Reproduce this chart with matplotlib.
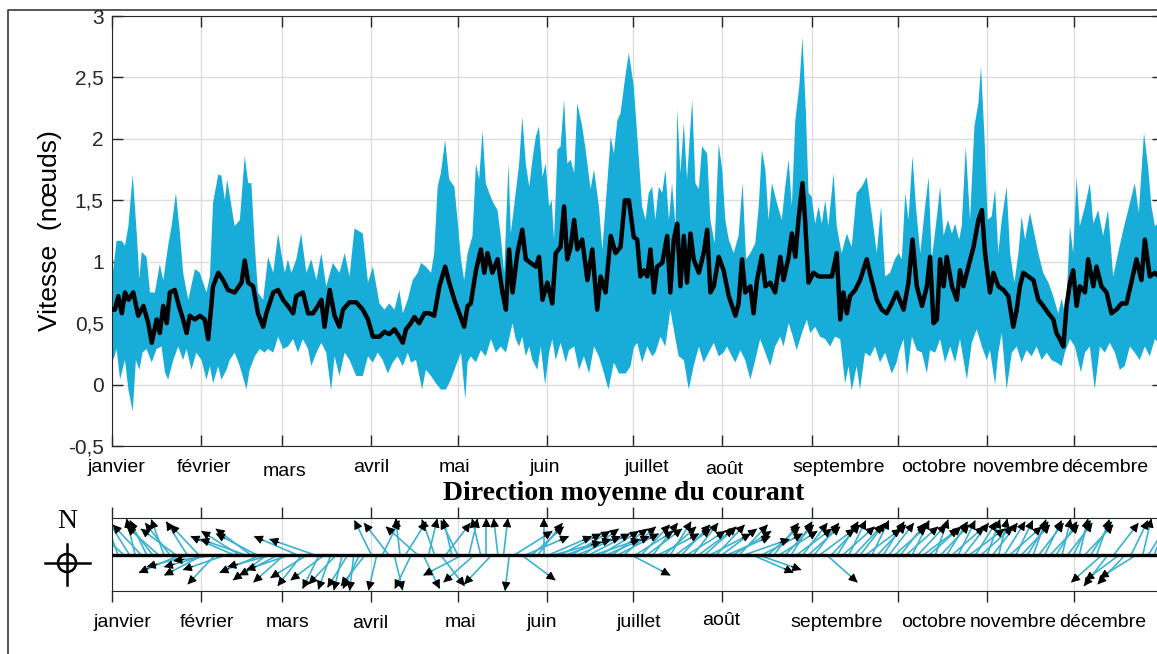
import matplotlib.pyplot as plt
import numpy as np
from matplotlib.collections import LineCollection
from matplotlib.patches import Circle

# vitesse max journaliere (noeuds) - jour de l'annee
up_day = [0, 1.6, 3.4, 4.5, 5.7, 7.2, 8.6, 9.5, 10.3, 12.0, 13.2, 14.9, 16.6, 17.8, 19.5,
          20.7, 22.2, 23.6, 24.7, 26.5, 28.8, 30.5, 32.8, 34.0, 35.1, 36.9, 38.0, 39.2, 40.0,
          41.5, 42.6, 44.4, 46.1, 47.3, 48.4, 49.6, 50.7, 52.5, 54.2, 56.0, 57.7, 58.8, 60.0,
          61.1, 62.3, 64.0, 65.7, 67.5, 69.2, 71.0, 72.7, 74.4, 76.7, 79.0, 80.8, 82.5, 84.2,
          87.1, 88.9, 90.6,
          92.9, 94.6, 96.3, 98.1, 99.8, 101.0, 102.7, 104.4, 106.2, 107.3, 109.0, 110.8, 111.9,
          113.1, 114.2, 115.7, 117.1, 118.9, 120.0, 121.2, 122.3, 123.5, 125.2, 126.4, 127.5,
          128.7, 129.8, 131.0, 132.4, 133.9, 135.0, 136.2, 137.7, 138.5, 140.2, 141.4, 142.5,
          143.7, 144.9, 146.0, 147.2, 148.3, 149.5, 150.6, 151.8, 152.7, 153.5, 154.7, 155.8,
          157.0, 158.1, 159.3, 160.5, 161.6, 163.3, 164.5, 166.2, 167.4, 169.1, 170.3, 171.4,
          173.2, 174.3, 175.5, 176.6, 178.4, 179.5,
          181.2, 183.0, 184.1, 185.3, 186.4, 187.6, 188.7, 189.9, 191.1, 192.2, 193.4, 194.5,
          195.7, 196.3, 197.4, 198.6, 199.7, 201.5, 202.6, 203.8, 204.9, 206.7, 207.8, 209.3,
          210.7, 211.9, 213.0, 214.2, 215.9, 217.6, 219.0, 220.2, 221.7, 223.4, 224.6, 225.7,
          226.9, 228.0, 229.2, 230.9, 232.6, 233.8, 235.0, 236.1, 237.3, 238.7, 239.8, 241.0,
          241.9, 243.0, 244.2, 245.4, 246.5, 247.7, 248.8, 250.6, 251.7, 253.4, 255.2, 256.9,
          258.6, 260.4, 262.1, 263.8, 265.6, 267.1, 268.5, 270.2, 271.9,
          273.2, 274.3, 275.5, 276.6, 278.0, 279.2, 280.7, 282.4, 283.6, 284.7, 286.5, 287.6,
          288.8, 290.3, 291.7, 292.8, 294.2, 295.1, 296.5, 298.0, 299.5, 300.9, 301.8, 303.0,
          304.1, 305.5, 306.7, 307.8, 309.0, 310.7, 311.9, 313.4, 314.8, 315.9, 317.1, 318.8,
          320.3, 321.7, 323.4, 325.2, 326.9, 328.6, 329.8, 331.2, 332.7, 333.8, 335.0, 336.1,
          337.9, 339.6, 340.8, 342.5, 344.2, 345.9, 347.7, 349.4, 351.2, 352.9, 355.2, 356.6,
          358.4, 359.8, 361.0, 362.2, 365]
up_kn = [0.85, 1.17, 1.17, 1.13, 1.29, 1.71, 1.23, 0.86, 1.08, 1.04, 0.75, 0.75, 0.98, 0.85, 1.13,
         1.29, 1.56, 1.23, 0.91, 0.69, 0.94, 0.91, 0.75, 0.88, 1.48, 1.71, 1.70, 1.50, 1.67,
         1.45, 1.29, 1.34, 1.86, 1.64, 1.64, 1.13, 0.75, 0.69, 1.04, 0.91, 1.23, 1.07, 0.91,
         1.02, 0.91, 1.02, 1.23, 0.91, 1.02, 0.85, 1.07, 0.80, 0.99, 0.91, 1.07, 0.88, 1.27,
         1.23, 0.83, 0.96,
         0.66, 0.61, 0.66, 0.61, 0.77, 0.58, 0.69, 0.85, 0.91, 0.99, 0.96, 0.91, 1.07,
         1.61, 1.72, 1.99, 1.67, 1.61, 1.34, 1.02, 0.85, 1.07, 1.21, 1.80, 1.67,
         2.07, 1.64, 1.56, 1.48, 1.42, 1.21, 0.91, 1.80, 1.23, 1.56, 1.80, 2.18,
         1.80, 1.61, 1.83, 2.02, 2.10, 1.69, 1.80, 1.45, 1.50, 1.18, 1.91, 1.94,
         2.32, 1.80, 1.83, 1.72, 2.29, 2.10, 1.91, 1.59, 1.75, 1.45, 1.10, 1.45,
         2.02, 1.88, 2.15, 2.21, 2.53, 2.70,
         2.43, 1.83, 1.45, 1.34, 1.56, 1.61, 1.34, 1.61, 1.56, 1.75, 1.34, 1.64,
         1.29, 2.24, 1.72, 2.13, 1.67, 2.32, 1.64, 1.59, 1.94, 1.88, 1.34, 1.15,
         1.96, 1.75, 1.34, 1.18, 1.07, 1.21, 1.64, 1.02, 1.07, 1.15, 1.45, 1.91,
         1.75, 1.34, 1.64, 1.48, 1.34, 1.61, 1.83, 1.45, 2.15, 2.43, 2.83, 2.21,
         1.56, 1.53, 1.31, 1.45, 1.31, 1.50, 1.29, 1.72, 1.29, 1.07, 1.23, 1.12,
         1.56, 1.61, 1.69, 1.40, 1.07, 1.45, 0.88, 0.91, 1.02,
         1.07, 1.02, 1.56, 1.34, 1.86, 1.45, 1.07, 1.45, 1.69, 1.02, 1.37, 1.61,
         1.21, 1.34, 1.23, 1.31, 1.18, 1.29, 1.94, 1.34, 2.10, 2.29, 2.59, 2.02,
         1.34, 1.37, 1.59, 1.07, 1.34, 1.61, 1.07, 0.83, 1.07, 1.37, 1.18, 1.40,
         1.23, 1.07, 0.91, 0.83, 0.72, 0.58, 0.70, 0.55, 1.29, 1.07, 1.69, 1.29,
         1.45, 1.64, 1.31, 1.42, 1.21, 1.42, 0.88, 1.07, 1.26, 1.42, 1.64, 1.40,
         2.05, 1.78, 1.45, 1.29, 1.35]

# vitesse min journaliere (noeuds)
lo_day = [0, 0.5, 1.6, 2.8, 4.5, 5.7, 7.2, 8.3, 9.5, 10.6, 12.0, 13.8, 15.5, 17.2, 18.4,
          19.5, 21.3, 23.0, 24.7, 25.9, 27.6, 29.3, 31.1, 32.8, 34.0, 35.1, 36.9, 38.0, 39.8,
          40.9, 42.6, 44.4, 46.7, 47.8, 49.6, 51.3, 53.0, 54.2, 56.0, 57.7, 59.4, 61.1, 62.9,
          64.6, 66.3, 68.1, 69.2, 71.0, 72.7, 74.4, 76.1, 77.3, 79.0, 80.8, 82.5, 84.8, 87.1,
          88.9, 90.6,
          92.3, 94.0, 95.8, 97.5, 99.2, 101.0, 102.7, 103.8, 105.6, 107.7, 109.0, 110.8, 112.5,
          114.2, 116.0, 117.7, 119.4, 121.2, 122.7, 123.5, 124.6, 126.4, 128.1, 129.8, 131.6,
          133.3, 135.0, 136.8, 137.9, 139.1, 140.2, 141.4, 142.5, 143.7, 144.9, 146.0, 147.7,
          148.9, 150.4, 151.8, 152.9, 154.1, 155.8, 157.6, 158.7, 160.5, 162.2, 163.9, 165.7,
          167.4, 169.1, 170.9, 172.4, 174.3, 176.1, 178.4, 180.1,
          181.2, 182.4, 184.1, 185.9, 187.6, 188.7, 190.5, 192.2, 193.9, 195.7, 196.8, 198.6,
          200.3, 202.0, 203.8, 205.5, 207.2, 209.0, 210.7, 212.4, 213.6, 215.3, 216.5, 218.2,
          219.9, 221.7, 223.4, 225.1, 226.9, 228.6, 230.3, 232.1, 233.2, 235.0, 236.1, 237.8,
          239.6, 241.3, 242.5, 244.2, 245.9, 247.7, 249.4, 251.1, 252.9, 254.6, 255.8, 256.9,
          258.6, 259.8, 261.5, 263.3, 265.0, 266.7, 268.5, 270.8, 272.5,
          273.2, 274.9, 276.1, 277.8, 279.5, 281.3, 283.0, 284.1, 285.9, 287.6, 289.3, 291.1,
          292.8, 294.5, 296.9, 298.6, 300.3, 302.1, 303.8, 304.9, 306.7, 307.8, 309.0, 310.7,
          312.5, 314.2, 315.9, 317.6, 319.4, 321.1, 322.9, 324.6, 326.3, 328.0, 329.8, 330.9,
          332.7, 334.4, 336.5, 337.9, 339.6, 341.3, 343.1, 344.8, 346.5, 348.3, 350.0, 351.7,
          353.5, 355.2, 356.9, 358.7, 360.4, 362.2, 365]
lo_kn = [0.30, 0.20, 0.29, 0.04, 0.20, -0.04, -0.22, 0.20, 0.12, 0.26, 0.29, 0.18, 0.29, 0.31, 0.10,
         0.04, 0.20, 0.31, 0.20, 0.29, 0.12, 0.26, 0.20, 0.04, 0.15, 0.01, 0.15, 0.04, 0.12,
         0.20, 0.26, 0.15, -0.04, 0.12, 0.23, 0.29, 0.26, 0.29, 0.26, 0.39, 0.29, 0.31, 0.37,
         0.26, 0.37, 0.29, 0.15, 0.26, 0.34, 0.26, -0.05, 0.23, 0.07, 0.26, 0.20, 0.07, 0.07,
         0.23, 0.18,
         0.26, 0.20, 0.09, 0.18, 0.23, 0.15, 0.26, 0.18, 0.20, -0.04, 0.12, 0.07, 0.01,
         -0.04, -0.04, 0.04, 0.15, 0.26, -0.12, 0.18, 0.23, 0.18, 0.28, 0.23, 0.37,
         0.26, 0.31, 0.26, 0.37, 0.50, 0.37, 0.31, 0.39, 0.23, 0.31, 0.20, 0.12,
         0.31, 0.00, 0.26, 0.37, 0.20, 0.34, 0.18, 0.28, 0.31, 0.12, 0.23, 0.09,
         0.31, 0.23, 0.09, -0.04, 0.18, 0.09, 0.09, 0.15,
         0.30, 0.34, 0.18, 0.31, 0.23, 0.26, 0.39, 0.31, 0.61, 0.37, 0.23, 0.20,
         -0.04, 0.15, 0.31, 0.18, 0.26, 0.34, 0.23, 0.26, 0.31, 0.23, 0.18, 0.28,
         0.20, 0.04, 0.20, 0.37, 0.26, 0.15, 0.31, 0.39, 0.31, 0.50, 0.42, 0.28,
         0.42, 0.53, 0.42, 0.47, 0.39, 0.37, 0.31, 0.39, 0.37, 0.01, 0.15, -0.05,
         0.15, -0.04, 0.26, 0.23, 0.31, 0.18, 0.26, 0.09, 0.18,
         0.26, 0.37, 0.07, 0.39, 0.28, 0.26, 0.09, 0.28, 0.26, 0.37, 0.18, 0.31,
         0.18, 0.37, 0.04, 0.34, 0.45, 0.31, 0.20, 0.28, 0.00, 0.26, 0.42, -0.04,
         0.26, 0.31, 0.18, 0.28, 0.23, 0.31, 0.20, 0.26, 0.20, 0.18, 0.15, 0.26,
         0.37, 0.31, 0.10, 0.26, 0.31, -0.04, 0.31, 0.26, 0.34, 0.26, 0.12, 0.15,
         0.31, 0.26, 0.20, 0.31, 0.23, 0.37, 0.30]

# vitesse moyenne (noeuds)
moy_day = [0, 1.0, 2.2, 3.4, 4.5, 5.7, 7.4, 9.1, 10.9, 12.6, 13.8, 15.5, 16.6, 17.8, 19.0,
           20.1, 21.8, 23.0, 24.7, 25.9, 27.0, 28.8, 30.5, 32.2, 33.4, 35.1, 36.9, 38.6, 40.3,
           42.6, 45.0, 46.1, 47.3, 49.0, 50.7, 52.5, 53.6, 56.0, 57.7, 59.4, 61.1, 62.9, 64.0,
           66.3, 68.1, 69.8, 71.5, 72.7, 73.8, 75.6, 77.3, 79.0, 80.2, 82.5, 84.8, 87.1, 88.9,
           90.6, 92.9,
           94.6, 96.3, 98.1, 99.8, 101.0, 102.1, 103.8, 105.0, 106.7, 108.5, 110.2, 111.9,
           113.7, 115.7, 117.1, 118.9, 120.6, 122.3, 123.5, 124.6, 126.4, 128.1, 129.3, 130.4,
           132.1, 133.9, 135.6, 136.8, 137.9, 139.1, 140.8, 142.5, 143.7, 145.4, 147.2, 148.3,
           149.5, 151.2, 152.9, 154.1, 155.8, 157.0, 158.1, 159.3, 160.5, 161.6, 163.3, 165.1,
           166.8, 168.5, 169.7, 171.4, 173.2, 174.9, 176.6, 178.1,
           179.5, 181.2, 182.4, 183.5, 184.7, 185.9, 187.0, 188.2, 189.3, 191.1, 192.8, 193.9,
           195.1, 196.3, 197.4, 198.6, 199.7, 200.9, 202.0, 203.8, 205.5, 206.7, 207.8, 209.0,
           210.7, 212.4, 214.2, 216.5, 217.6, 218.8, 219.9, 221.7, 222.8, 224.0, 225.7, 226.9,
           228.6, 230.3, 232.1, 233.2, 235.0, 236.1, 237.3, 238.4, 239.8, 240.7, 241.9, 243.6,
           245.4, 247.7, 250.0, 251.7, 252.9, 254.0, 255.2, 256.3, 258.1, 259.8, 262.1, 263.8,
           265.6, 267.3, 269.0, 270.8, 272.5,
           274.9, 276.6, 278.0, 279.5, 281.3, 283.0, 284.1, 285.3, 286.5, 287.6, 288.8, 289.9,
           291.7, 293.4, 294.5, 295.7, 297.4, 299.2, 300.9, 302.1, 303.2, 304.9, 306.1, 307.8,
           309.6, 311.3, 313.0, 314.2, 315.3, 316.5, 318.2, 320.0, 321.7, 323.4, 325.2, 326.9,
           328.0, 329.2, 330.4, 331.5, 332.7, 333.8, 335.0, 336.1, 337.9, 339.0, 340.8, 341.9,
           343.6, 345.4, 347.1, 348.8, 350.6, 352.3, 354.0, 355.8, 357.5, 358.7, 360.4, 362.2,
           365]
moy_kn = [0.61, 0.61, 0.72, 0.58, 0.75, 0.69, 0.75, 0.56, 0.64, 0.50, 0.34, 0.53, 0.42, 0.64, 0.50,
          0.75, 0.77, 0.66, 0.53, 0.42, 0.56, 0.53, 0.56, 0.53, 0.37, 0.80, 0.91, 0.85, 0.77,
          0.75, 0.83, 1.01, 0.83, 0.80, 0.58, 0.47, 0.58, 0.75, 0.77, 0.69, 0.64, 0.58, 0.72,
          0.75, 0.58, 0.58, 0.64, 0.69, 0.47, 0.77, 0.56, 0.47, 0.61, 0.67, 0.67, 0.61, 0.53,
          0.39, 0.39,
          0.43, 0.41, 0.45, 0.39, 0.34, 0.45, 0.50, 0.55, 0.50, 0.58, 0.58, 0.56,
          0.80, 0.96, 0.83, 0.69, 0.58, 0.47, 0.64, 0.66, 0.93, 1.10, 0.91, 1.07,
          0.91, 1.02, 0.75, 0.61, 1.10, 0.75, 1.07, 1.26, 1.02, 0.99, 0.96, 1.04,
          0.69, 0.83, 0.66, 1.07, 1.12, 1.45, 1.02, 1.12, 1.34, 1.10, 1.18, 0.85,
          1.10, 0.61, 0.88, 0.75, 1.21, 1.07, 1.12, 1.50,
          1.50, 1.20, 1.18, 0.88, 0.93, 0.88, 1.10, 0.75, 0.96, 0.99, 1.21, 0.75,
          1.18, 1.31, 0.80, 1.21, 0.83, 1.23, 1.02, 0.91, 1.07, 1.26, 0.75, 0.80,
          1.04, 0.93, 0.72, 0.56, 0.66, 1.02, 0.75, 0.80, 0.58, 0.85, 1.05, 0.80,
          0.83, 0.75, 1.04, 0.85, 1.04, 1.23, 1.04, 1.34, 1.64, 1.34, 0.83, 0.91,
          0.88, 0.88, 0.88, 1.07, 0.53, 0.75, 0.58, 0.72, 0.77, 0.85, 1.02, 0.85,
          0.69, 0.61, 0.58, 0.66, 0.75,
          0.61, 0.83, 1.18, 0.80, 0.64, 0.80, 1.04, 0.50, 0.53, 1.02, 0.80, 1.04,
          0.80, 0.69, 0.93, 0.80, 0.96, 1.12, 1.34, 1.42, 1.07, 0.75, 0.91, 0.80,
          0.77, 0.72, 0.47, 0.61, 0.80, 0.91, 0.88, 0.85, 0.69, 0.64, 0.58, 0.53,
          0.42, 0.37, 0.31, 0.64, 0.83, 0.93, 0.64, 0.80, 0.75, 1.02, 0.80, 0.96,
          0.80, 0.75, 0.58, 0.61, 0.66, 0.66, 0.83, 1.02, 0.85, 1.18, 0.88, 0.91,
          0.85]

# direction moyenne du courant, un releve tous les 2 jours (degres, 0 = nord)
dir_day = np.arange(0, 365, 2)
dir_deg = [330, 345, 320, 335, 350, 325, 340, 330, 320, 345, 330, 315, 240, 335, 250, 325,   # janvier
           235, 250, 215, 260, 245, 300, 310, 295, 315, 305, 240, 225, 250, 235,             # fevrier
           220, 245, 300, 210, 230, 295, 200, 225, 195, 215, 190, 205, 185, 200, 210,        # mars
           340, 190, 20, 330, 170, 355, 25, 200, 320, 160, 10, 345, 150, 30, 350,            # avril
           340, 235, 10, 220, 350, 0, 215, 355, 5, 185, 50, 135, 60, 40, 30, 0,              # mai
           60, 70, 55, 65, 50, 60, 45, 55, 65, 50, 60, 45, 55, 40, 125,                      # juin
           50, 35, 45, 30, 55, 40, 25, 45, 35, 50, 30, 45, 40, 55, 35,                       # juillet
           45, 60, 50, 35, 65, 120, 115, 55, 40, 30, 50, 35, 25, 45, 30, 40,                 # aout
           30, 45, 140, 35, 25, 40, 20, 35, 30, 45, 20, 35, 25, 30, 40,                      # septembre
           30, 40, 20, 35, 45, 40, 15, 35, 25, 40, 20, 30, 45, 25, 40,                       # octobre
           15, 30, 10, 25, 40, 20, 35, 25, 15, 30, 20, 35, 25, 10, 30,                       # novembre
           20, 10, 35, 25, 15, 220, 210, 30, 225, 215, 20, 230, 10, 25, 15, 30]              # decembre

mois = ['janvier', 'février', 'mars', 'avril', 'mai', 'juin', 'juillet', 'août',
        'septembre', 'octobre', 'novembre', 'décembre']
debut_mois = [0, 31, 59, 90, 120, 151, 181, 212, 243, 273, 304, 334]

# placement des noms de mois (jour, decalage vertical en axes)
lab_haut_x = [1.7, 32.1, 59.9, 90.1, 118.9, 150.4, 185.8, 212.5, 252.3, 285.3, 314.0, 344.8]
lab_haut_y = [-0.051, -0.051, -0.060, -0.051, -0.051, -0.051, -0.051, -0.054, -0.051, -0.051, -0.051, -0.051]
lab_bas_x = [3.5, 32.9, 61.0, 89.8, 121.0, 149.4, 183.0, 211.4, 251.6, 285.3, 313.0, 344.2]
lab_bas_y = [-0.43, -0.43, -0.43, -0.45, -0.43, -0.43, -0.43, -0.40, -0.43, -0.43, -0.43, -0.43]

cyan = '#18ADD8'
fleche = '#3BB3D0'
gris = '#dcdcdc'
W, H = 1157, 654

plt.rcParams['font.family'] = ['Liberation Sans', 'DejaVu Sans']
fig = plt.figure(figsize=(W / 100, H / 100), dpi=100)


def px_axes(x0, x1, y0, y1):
    return fig.add_axes([x0 / W, 1 - y1 / H, (x1 - x0) / W, (y1 - y0) / H])


# ---- vitesse ----
ax = px_axes(112, 1163, 16, 446)
xs = list(up_day) + list(lo_day[::-1])
ys = list(up_kn) + list(lo_kn[::-1])
ax.fill(xs, ys, color=cyan, lw=0, zorder=2)
ax.plot(moy_day, moy_kn, color='k', lw=3.2, zorder=3)

ax.set_xlim(0, 365)
ax.set_ylim(-0.5, 3)
ax.set_yticks([-0.5, 0, 0.5, 1, 1.5, 2, 2.5, 3])
ax.set_yticklabels(['-0,5', '0', '0,5', '1', '1,5', '2', '2,5', '3'], fontsize=15)
ax.set_xticks(debut_mois)
ax.set_xticklabels([])
ax.grid(True, color=gris, lw=1.0)
ax.set_axisbelow(True)
ax.tick_params(direction='in', length=8, width=1, top=True, right=True, pad=6, colors='#262626')
for s in ax.spines.values():
    s.set_color('#262626')
ax.set_ylabel('Vitesse  (nœuds)', fontsize=19, labelpad=4)
for nom, x, y in zip(mois, lab_haut_x, lab_haut_y):
    ax.text(x, y, nom, transform=ax.get_xaxis_transform(), ha='center', va='center', fontsize=14)

# ---- direction ----
bx = px_axes(112, 1163, 518, 591)
kx = 17.0  # etirement horizontal d'un vecteur unitaire, en jours
th = np.radians(dir_deg)
u = np.sin(th) * kx
v = np.cos(th)
segs = [[(d, 0), (d + du, dv)] for d, du, dv in zip(dir_day, u, v)]
bx.add_collection(LineCollection(segs, colors=fleche, lw=1.2, zorder=2))
for d, du, dv in zip(dir_day, u, v):
    bx.annotate('', xy=(d + du, dv), xytext=(d + 0.78 * du, 0.78 * dv),
                arrowprops=dict(arrowstyle='-|>', color='k', lw=0.8,
                                mutation_scale=13, shrinkA=0, shrinkB=0),
                annotation_clip=True, zorder=3)
bx.axhline(0, color='k', lw=2.4, zorder=4)
bx.set_xlim(0, 365)
bx.set_ylim(-1, 1)
bx.set_yticks([])
bx.set_xticks(debut_mois)
bx.set_xticklabels([])
bx.grid(True, axis='x', color=gris, lw=1.0)
bx.set_axisbelow(True)
bx.tick_params(direction='out', length=8, width=1, top=True, bottom=True, colors='#262626')
for s in bx.spines.values():
    s.set_color('#262626')
for nom, x, y in zip(mois, lab_bas_x, lab_bas_y):
    bx.text(x, y, nom, transform=bx.get_xaxis_transform(), ha='center', va='center', fontsize=14)

# ---- cadre, titre et boussole ----
ov = fig.add_axes([0, 0, 1, 1], zorder=-1)
ov.set_xlim(0, W)
ov.set_ylim(H, 0)
ov.axis('off')
ov.plot([8, 8, W], [H, 10, 10], color='#3a3a3a', lw=1.2)
ov.text(624, 494, 'Direction moyenne du courant', ha='center', va='center',
        family='Liberation Serif', weight='bold', fontsize=20)
ov.text(67, 522, 'N', ha='center', va='center', family='Liberation Serif', fontsize=20)
ov.add_patch(Circle((67, 563), 9, fill=False, color='k', lw=1.8))
ov.plot([45, 90], [563, 563], color='k', lw=1.8)
ov.plot([67, 67], [544, 585], color='k', lw=1.8)

fig.savefig('out.png', dpi=100)
